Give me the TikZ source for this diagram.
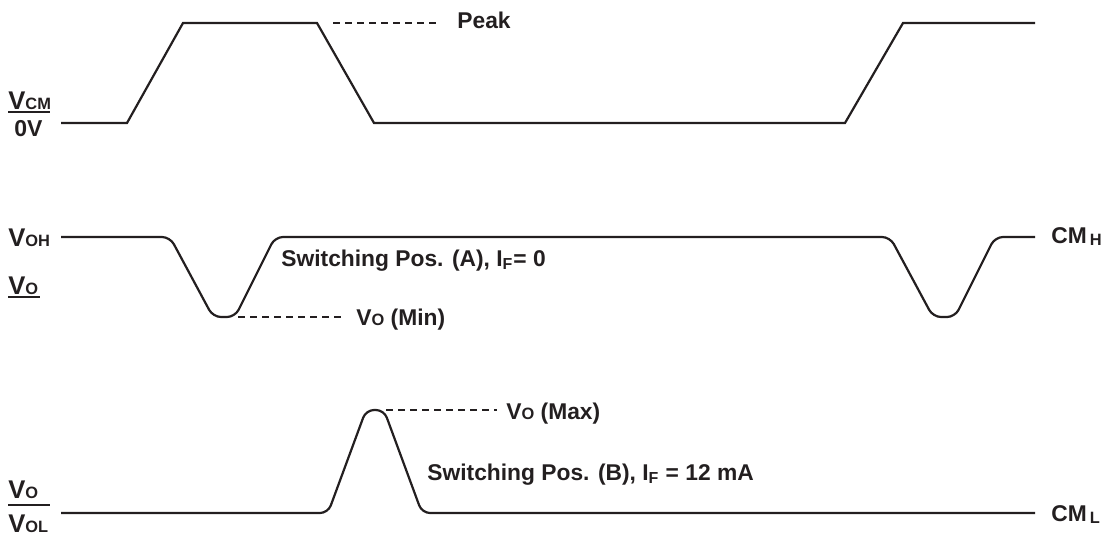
\documentclass[tikz,border=0pt]{standalone}
\usepackage{fontspec}
\setmainfont{Liberation Sans}
\usetikzlibrary{positioning}
\definecolor{ink}{HTML}{231F20}
\tikzset{
  wave/.style={draw=ink, line width=1.1pt, rounded corners=4pt},
  ramp/.style={draw=ink, line width=1.1pt},
  leader/.style={draw=ink, line width=0.6pt, dash pattern=on 3.5pt off 2.5pt},
  lbl/.style={text=ink, inner sep=0pt, anchor=base west, font=\bfseries\fontsize{11.4}{13}\selectfont},
  lvl/.style={text=ink, inner sep=0pt, anchor=base west, font=\bfseries\fontsize{12.8}{15}\selectfont},
  uline/.style={draw=ink, line width=0.6pt},
}
\newcommand{\sm}[1]{{\fontsize{8.2}{10}\selectfont #1}}

\begin{document}
\begin{tikzpicture}[x=0.5pt,y=-0.5pt]
\useasboundingbox (0,0) rectangle (1107,536);

% common mode pulse
\draw[ramp] (61,123) -- (127,123) -- (183,23) -- (317,23) -- (374,123)
  -- (845,123) -- (903,23) -- (1035,23);
\node[lvl] (vcm) at (8,109) {V\sm{CM}};
\node[lvl, font=\bfseries\fontsize{11.5}{13}\selectfont] (zero) at (14,136) {0V};
\draw[uline] (8,112) -- (50,112);
\coordinate (pkA) at (333,23);
\node[lbl] (pk) at (457,28) {Peak};
\draw[leader] (pkA) -- (438,23);

% output, position A
\draw[wave] (61,237) -- (170,237) -- (213,317) -- (235,317) -- (275,237)
  -- (890,237) -- (933,317) -- (955,317) -- (995,237) -- (1035,237);
\node[lvl] (voh) at (8,246) {V\sm{OH}};
\node[lvl] (vo1) at (8,294) {V\sm{O}};
\draw[uline] (8,297) -- (40,297);
\node[lbl] (swa) at (281,266) {Switching Pos. (A), I\textsubscript{F}= 0};
\coordinate (mnA) at (238,317);
\node[lbl] (vmin) at (356,325) {V\sm{O} (Min)};
\draw[leader] (mnA) -- (343,317);
\node[lbl] (cmh) at (1051,243) {CM\hspace{1.5pt}\raisebox{-1pt}{\sm{H}}};

% output, position B
\draw[wave] (61,513) -- (328,513) -- (366,410) -- (384,410) -- (422,513)
  -- (1035,513);
\node[lvl] (vo2) at (8,498) {V\sm{O}};
\draw[uline] (8,505) -- (50,505);
\node[lvl] (vol) at (8,532) {V\sm{OL}};
\node[lbl] (swb) at (427,480) {Switching Pos. (B), I\textsubscript{F} = 12 mA};
\coordinate (mxA) at (386,410);
\node[lbl] (vmax) at (506,419) {V\sm{O} (Max)};
\draw[leader] (mxA) -- (497,410);
\node[lbl] (cml) at (1051,521) {CM\hspace{1.5pt}\raisebox{-1pt}{\sm{L}}};
\end{tikzpicture}
\end{document}
